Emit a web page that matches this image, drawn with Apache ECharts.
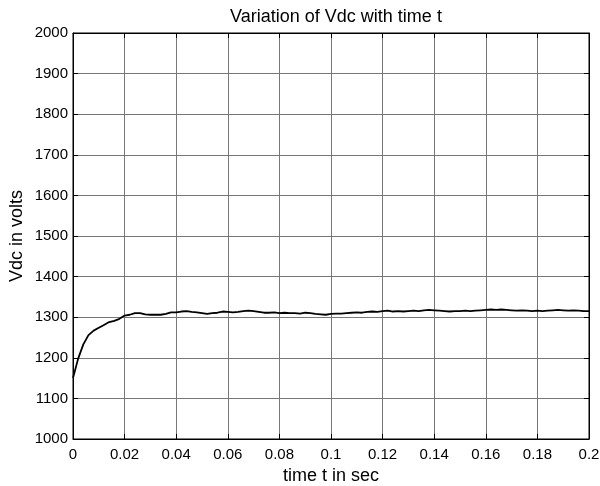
<!DOCTYPE html>
<html>
<head>
<meta charset="utf-8">
<script src="https://cdn.jsdelivr.net/npm/echarts@6/dist/echarts.min.js"></script>
<style>html,body{margin:0;padding:0;background:#fff;}#c{width:600px;height:486px;}</style>
</head>
<body>
<div id="c"></div>
<script>
var titleText = 'Variation of Vdc with time t';
var xName = 'time t in sec';
var yName = 'Vdc in volts';
var tStep = 0.002;
var vdc = [
1150,1198,1233,1256,1267,1274,1281,1288,1291,1296,
1304,1306,1310,1310,1307,1306,1306,1306,1308,1312,
1312,1314,1315,1313,1312,1310,1308,1310,1311,1314,
1313,1312,1313,1315,1316,1315,1313,1311,1311,1312,
1310,1311,1310,1310,1309,1311,1310,1308,1307,1306,
1308,1309,1309,1310,1311,1312,1311,1313,1314,1313,
1315,1316,1314,1315,1314,1315,1316,1315,1317,1318,
1317,1316,1315,1314,1315,1315,1316,1315,1316,1317,
1318,1319,1318,1319,1318,1317,1316,1317,1316,1315,
1316,1315,1316,1317,1318,1317,1316,1317,1316,1315,
1315
];
var data = vdc.map(function(v, i){ return [+(i*tStep).toFixed(3), v]; });

var font = 'Liberation Sans, Arial, sans-serif';
var chart = echarts.init(document.getElementById('c'));
var gridLine = {show:true, lineStyle:{color:'#777', width:1}};
chart.setOption({
  animation:false,
  backgroundColor:'#fff',
  title:{text:titleText, left:331, textAlign:'center', top:3,
         textStyle:{fontFamily:font, fontSize:18, fontWeight:'normal', color:'#000'}},
  grid:{left:73, right:11, top:33, bottom:47, containLabel:false, outerBoundsMode:'none',
        show:true, borderColor:'#000', borderWidth:1},
  xAxis:[{
    type:'value', min:0, max:0.2, interval:0.02,
    name:xName, nameLocation:'middle', nameGap:27,
    nameTextStyle:{fontFamily:font, fontSize:18, color:'#000'},
    axisLine:{show:true, onZero:false, lineStyle:{color:'#000', width:1}},
    axisTick:{show:true, inside:true, length:5, lineStyle:{color:'#000'}},
    axisLabel:{fontFamily:font, fontSize:15, color:'#000', margin:8,
      formatter:function(v){ return String(+v.toFixed(2)); }},
    splitLine:gridLine
  },{
    type:'value', min:0, max:0.2, interval:0.02, position:'top',
    axisLine:{show:true, onZero:false, lineStyle:{color:'#000'}},
    axisTick:{show:true, inside:true, length:5, lineStyle:{color:'#000'}},
    axisLabel:{show:false}, splitLine:{show:false}
  }],
  yAxis:[{
    type:'value', min:1000, max:2000, interval:100,
    name:yName, nameLocation:'middle', nameGap:47, nameMoveOverlap:false,
    nameTextStyle:{fontFamily:font, fontSize:18, color:'#000'},
    axisLine:{show:true, onZero:false, lineStyle:{color:'#000', width:1}},
    axisTick:{show:true, inside:true, length:5, lineStyle:{color:'#000'}},
    axisLabel:{fontFamily:font, fontSize:15, color:'#000', margin:5,
      formatter:function(v){ return String(v); }},
    splitLine:gridLine
  },{
    type:'value', min:1000, max:2000, interval:100, position:'right',
    axisLine:{show:true, onZero:false, lineStyle:{color:'#000'}},
    axisTick:{show:true, inside:true, length:5, lineStyle:{color:'#000'}},
    axisLabel:{show:false}, splitLine:{show:false}
  }],
  series:[{
    type:'line', data:data, xAxisIndex:0, yAxisIndex:0,
    showSymbol:false, symbol:'none',
    lineStyle:{color:'#000', width:1.8}
  }]
});
</script>
</body>
</html>
